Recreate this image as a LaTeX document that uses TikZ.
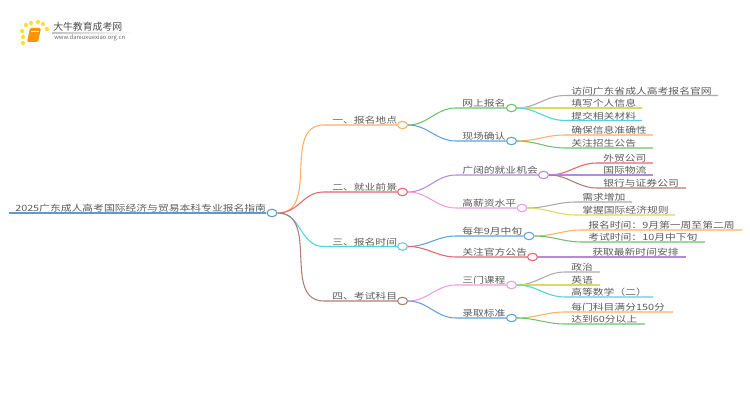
\documentclass[tikz,border=0pt]{standalone}
\usepackage{fontspec}
\setmainfont{Noto Sans CJK SC}
\usetikzlibrary{shapes.geometric}

\definecolor{cRoot}{HTML}{5B9BD5}
\definecolor{cOrange}{HTML}{FFAE66}
\definecolor{cRed}{HTML}{E8646C}
\definecolor{cCyan}{HTML}{4FD3E2}
\definecolor{cBrown}{HTML}{AA7F72}
\definecolor{cGreen}{HTML}{6CC26C}
\definecolor{cBlue}{HTML}{5FA2DA}
\definecolor{cPurple}{HTML}{B68ADB}
\definecolor{cPink}{HTML}{F09BDC}
\definecolor{cGray}{HTML}{ABABAB}
\definecolor{cYellow}{HTML}{D9D966}
\definecolor{cText}{HTML}{5A5A5A}

\begin{document}
\begin{tikzpicture}[
    x=0.75pt, y=-0.75pt,
    hub/.style={ellipse, draw=#1, fill=white, line width=0.8pt, inner sep=0pt, minimum width=7.5pt, minimum height=5.6pt},
    lbl/.style={anchor=west, inner sep=0pt, text=cText, font=\fontsize{8.1pt}{9pt}\selectfont, yscale=0.8, transform shape},
    wire/.style={draw=#1, line width=0.8pt}
]
\useasboundingbox (0,0) rectangle (750,410);

% Logo
\foreach \x/\y in {26/25,31/23,38/22,43/24,47/29,22/31,23/37,23/43}
  \fill[yellow!75!orange, opacity=0.8] (\x,\y) circle (1.6pt);
\fill[orange!85!yellow, rounded corners=1pt] (30,28) -- (41,28) -- (38,42) -- (27,42) -- cycle;
\draw[white, line width=0.3pt] (31,31) -- (39,31);
\node[anchor=west, inner sep=0pt, text=black!70, font=\fontsize{7.4pt}{8pt}\selectfont] (logoT) at (53,27) {大牛教育成考网};
\node[anchor=west, inner sep=0pt, text=black!60, font=\fontsize{4.4pt}{5pt}\selectfont] (logoU) at (54,38) {www.daniuxuexiao.org.cn};
\shade[left color=black!25, right color=white] (52,32.6) rectangle (134,33.3);

% Root
\node[hub=cRoot] (R) at (272,213) {};
\coordinate (R0) at (9,213);
\node[lbl] (Rt) at (15,208.5) {2025广东成人高考国际经济与贸易本科专业报名指南};
\draw[wire=cRoot] (R0) -- (R.west);

% Main branches
\foreach \n/\y/\col/\txt in {1/125/cOrange/一、报名地点, 2/192/cRed/二、就业前景, 3/246.5/cCyan/三、报名时间, 4/301/cBrown/四、考试科目}{
  \node[hub=\col] (B\n) at (402.5,\y) {};
  \coordinate (B\n s) at (324,\y);
  \node[lbl] (B\n t) at (332,\y-4.5) {\txt};
  \draw[wire=\col] (R.east) to[out=0, in=180, looseness=1.1] (B\n s) -- (B\n.west);
}

% Second level
\foreach \n/\p/\x/\y/\col/\txt in {
  1/1/511.5/108/cGreen/网上报名,
  2/1/511.5/141/cBlue/现场确认,
  3/2/543.5/175/cPurple/广阔的就业机会,
  4/2/522/208/cPink/高薪资水平,
  5/3/529/236/cBlue/每年9月中旬,
  6/3/532.5/257/cRed/关注官方公告,
  7/4/511.5/285/cPink/三门课程,
  8/4/511.5/318/cBlue/录取标准}{
  \node[hub=\col] (S\n) at (\x,\y) {};
  \coordinate (S\n s) at (456,\y);
  \node[lbl] (S\n t) at (462,\y-4.5) {\txt};
  \draw[wire=\col] (B\p.east) to[out=0, in=180] (S\n s) -- (S\n.west);
}

% Leaves
\foreach \n/\p/\y/\xs/\xe/\xt/\col/\txt in {
  1/1/95.5/565/718/571/cGray/访问广东省成人高考报名官网,
  2/1/108/565/642/571/cYellow/填写个人信息,
  3/1/120.5/565/642/571/cCyan/提交相关材料,
  4/2/135/565/653/571/cOrange/确保信息准确性,
  5/2/148/565/653/571/cGreen/关注招生公告,
  6/3/163/597/653/603/cRed/外贸公司,
  7/3/175/597/653/603/cPurple/国际物流,
  8/3/188/597/686/603/cBrown/银行与证券公司,
  9/4/202/576/632/582/cGray/需求增加,
  10/4/215/576/675/582/cYellow/掌握国际经济规则,
  11/5/230/582/742/588/cOrange/报名时间：9月第一周至第二周,
  12/5/242/582/705/588/cGreen/考试时间：10月中下旬,
  13/6/257/586/686/592/cPurple/获取最新时间安排,
  14/7/272/565/600/571/cGray/政治,
  15/7/285/565/600/571/cYellow/英语,
  16/7/297/565/653/571/cCyan/高等数学（二）,
  17/8/312/565/673/571/cOrange/每门科目满分150分,
  18/8/324/565/645/571/cGreen/达到60分以上}{
  \coordinate (L\n s) at (\xs,\y);
  \coordinate (L\n e) at (\xe,\y);
  \node[lbl] (L\n t) at (\xt,\y-4.5) {\txt};
  \draw[wire=\col] (S\p.east) to[out=0, in=180] (L\n s) -- (L\n e);
}

\end{tikzpicture}
\end{document}
